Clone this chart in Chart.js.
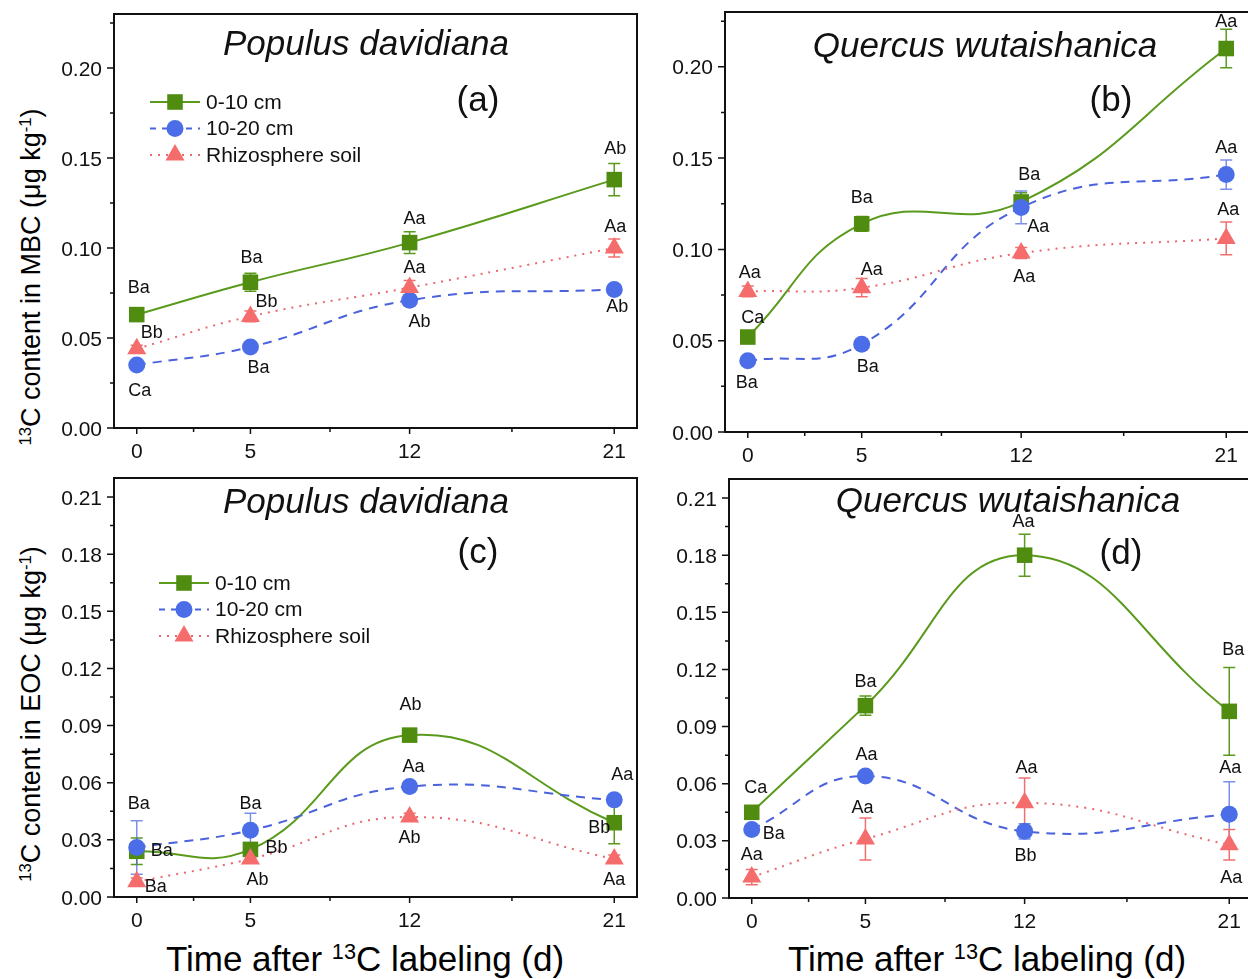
<!DOCTYPE html>
<html>
<head>
<meta charset="utf-8">
<script src="https://cdn.jsdelivr.net/npm/chart.js@4.4.0/dist/chart.umd.min.js"></script>
<style>
  html, body { margin: 0; padding: 0; background: #fff; }
  body { width: 1248px; height: 979px; position: relative; overflow: hidden;
         font-family: "Liberation Sans", Arial, sans-serif; }
  canvas { position: absolute; }
  .axtitle { position: absolute; white-space: nowrap; color: #000; line-height: 1; }
  .sup { font-size: 0.62em; position: relative; top: -0.55em; }
</style>
</head>
<body>
<div class="axtitle" style="left:31px;top:277px;font-size:27px;transform:translate(-50%,-50%) rotate(-90deg);"><span class="sup">13</span>C content in MBC (μg kg<span class="sup">-1</span>)</div>
<div class="axtitle" style="left:31px;top:714px;font-size:27px;transform:translate(-50%,-50%) rotate(-90deg);"><span class="sup">13</span>C content in EOC (μg kg<span class="sup">-1</span>)</div>
<div class="axtitle" style="left:365px;top:958px;font-size:35px;transform:translate(-50%,-50%);">Time after <span class="sup">13</span>C labeling (d)</div>
<div class="axtitle" style="left:987px;top:958px;font-size:35px;transform:translate(-50%,-50%);">Time after <span class="sup">13</span>C labeling (d)</div>

<canvas id="pa"></canvas>
<canvas id="pb"></canvas>
<canvas id="pc"></canvas>
<canvas id="pd"></canvas>

<script>
// ---- datos ----
var days = [0, 5, 12, 21];
var xMajorTicks = [0, 5, 12, 21];
var xMinorTicks = [2.5, 8.5, 16.5];
var mbcTicks = [0, 0.05, 0.10, 0.15, 0.20];
var eocTicks = [0, 0.03, 0.06, 0.09, 0.12, 0.15, 0.18, 0.21];
var seriesNames = ['0-10 cm', '10-20 cm', 'Rhizosphere soil'];

// (a) MBC, Populus davidiana
var popMbcTop = [0.063, 0.081, 0.103, 0.138];
var popMbcTopErr = [0.002, 0.005, 0.006, 0.009];
var popMbcTopSig = ['Ba', 'Ba', 'Aa', 'Ab'];
var popMbcSub = [0.035, 0.045, 0.071, 0.077];
var popMbcSubErr = [0.002, 0.002, 0.003, 0.002];
var popMbcSubSig = ['Ca', 'Ba', 'Ab', 'Ab'];
var popMbcRhizo = [0.044, 0.062, 0.078, 0.100];
var popMbcRhizoErr = [0.002, 0.003, 0.004, 0.005];
var popMbcRhizoSig = ['Bb', 'Bb', 'Aa', 'Aa'];

// (b) MBC, Quercus wutaishanica
var queMbcTop = [0.052, 0.114, 0.126, 0.210];
var queMbcTopErr = [0.002, 0.004, 0.005, 0.0105];
var queMbcTopSig = ['Ca', 'Ba', 'Ba', 'Aa'];
var queMbcSub = [0.039, 0.048, 0.123, 0.141];
var queMbcSubErr = [0.002, 0.002, 0.009, 0.008];
var queMbcSubSig = ['Ba', 'Ba', 'Aa', 'Aa'];
var queMbcRhizo = [0.077, 0.079, 0.098, 0.106];
var queMbcRhizoErr = [0.003, 0.005, 0.003, 0.009];
var queMbcRhizoSig = ['Aa', 'Aa', 'Aa', 'Aa'];

// (c) EOC, Populus davidiana
var popEocTop = [0.024, 0.025, 0.085, 0.039];
var popEocTopErr = [0.007, 0.003, 0.003, 0.011];
var popEocTopSig = ['Ba', 'Bb', 'Ab', 'Bb'];
var popEocSub = [0.026, 0.035, 0.058, 0.051];
var popEocSubErr = [0.014, 0.009, 0.002, 0.002];
var popEocSubSig = ['Ba', 'Ba', 'Aa', 'Aa'];
var popEocRhizo = [0.008, 0.020, 0.042, 0.020];
var popEocRhizoErr = [0.002, 0.002, 0.002, 0.002];
var popEocRhizoSig = ['Ba', 'Ab', 'Ab', 'Aa'];

// (d) EOC, Quercus wutaishanica
var queEocTop = [0.045, 0.101, 0.180, 0.098];
var queEocTopErr = [0.003, 0.005, 0.011, 0.023];
var queEocTopSig = ['Ca', 'Ba', 'Aa', 'Ba'];
var queEocSub = [0.036, 0.064, 0.035, 0.044];
var queEocSubErr = [0.002, 0.002, 0.004, 0.017];
var queEocSubSig = ['Ba', 'Aa', 'Bb', 'Aa'];
var queEocRhizo = [0.011, 0.031, 0.050, 0.028];
var queEocRhizoErr = [0.004, 0.011, 0.013, 0.008];
var queEocRhizoSig = ['Aa', 'Aa', 'Aa', 'Aa'];

// ---- estilos ----
var FONT = '"Liberation Sans", Arial, sans-serif';
var AX_W = 70, AX_H = 50, PAD = 4;

var styles = [
  { fill: '#4f8c10', line: '#5a9a1c', err: '#5a9a1c', dash: [], point: 'rect', radius: 11, order: 3 },
  { fill: '#4b6ee8', line: '#4a62dc', err: 'rgba(80,105,225,0.75)', dash: [9, 7], point: 'circle', radius: 8.5, order: 2 },
  { fill: '#f56c6c', line: '#e8686e', err: '#f07070', dash: [2, 6], point: 'triangle', radius: 11, order: 1 }
];

var panels = [
  { canvas: 'pa', box: { l: 114, r: 637, t: 14, b: 428 }, yMax: 0.23, yTicks: mbcTicks, yStep: 0.05,
    title: 'Populus davidiana', titleX: 366, titleY: 55, tag: '(a)', tagX: 478, tagY: 111,
    legend: { x: 36, y: 88 },
    series: [
      { vals: popMbcTop, err: popMbcTopErr, sig: popMbcTopSig, off: [[2, -27], [1, -24], [5, -24], [1, -31]] },
      { vals: popMbcSub, err: popMbcSubErr, sig: popMbcSubSig, off: [[3, 26], [8, 21], [10, 22], [3, 18]] },
      { vals: popMbcRhizo, err: popMbcRhizoErr, sig: popMbcRhizoSig, off: [[15, -16], [16, -14], [5, -20], [1, -21]] }
    ] },
  { canvas: 'pb', box: { l: 725, r: 1249, t: 12, b: 432 }, yMax: 0.23, yTicks: mbcTicks, yStep: 0.05,
    title: 'Quercus wutaishanica', titleX: 985, titleY: 57, tag: '(b)', tagX: 1111, tagY: 111,
    legend: null,
    series: [
      { vals: queMbcTop, err: queMbcTopErr, sig: queMbcTopSig, off: [[5, -19], [0, -26], [8, -27], [0, -26]] },
      { vals: queMbcSub, err: queMbcSubErr, sig: queMbcSubSig, off: [[-1, 22], [6, 23], [17, 20], [0, -26]] },
      { vals: queMbcRhizo, err: queMbcRhizoErr, sig: queMbcRhizoSig, off: [[2, -18], [10, -18], [3, 24], [2, -28]] }
    ] },
  { canvas: 'pc', box: { l: 114, r: 637, t: 478, b: 897 }, yMax: 0.22, yTicks: eocTicks, yStep: 0.03,
    title: 'Populus davidiana', titleX: 366, titleY: 513, tag: '(c)', tagX: 478, tagY: 563,
    legend: { x: 45, y: 105 },
    series: [
      { vals: popEocTop, err: popEocTopErr, sig: popEocTopSig, off: [[25, 0], [26, -1], [1, -30], [-15, 5]] },
      { vals: popEocSub, err: popEocSubErr, sig: popEocSubSig, off: [[2, -43], [0, -26], [4, -20], [8, -25]] },
      { vals: popEocRhizo, err: popEocRhizoErr, sig: popEocRhizoSig, off: [[19, 5], [7, 21], [0, 21], [0, 21]] }
    ] },
  { canvas: 'pd', box: { l: 729, r: 1252, t: 479, b: 898 }, yMax: 0.22, yTicks: eocTicks, yStep: 0.03,
    title: 'Quercus wutaishanica', titleX: 1008, titleY: 512, tag: '(d)', tagX: 1121, tagY: 564,
    legend: null,
    series: [
      { vals: queEocTop, err: queEocTopErr, sig: queEocTopSig, off: [[4, -24], [0, -24], [-1, -33], [4, -61]] },
      { vals: queEocSub, err: queEocSubErr, sig: queEocSubSig, off: [[22, 5], [1, -21], [1, 25], [1, -46]] },
      { vals: queEocRhizo, err: queEocRhizoErr, sig: queEocRhizoSig, off: [[0, -22], [-3, -31], [2, -35], [2, 33]] }
    ] }
];

function drawMarker(ctx, st, x, y) {
  var r = st.radius;
  ctx.fillStyle = st.fill;
  ctx.beginPath();
  if (st.point === 'rect') {
    var s = r * Math.SQRT1_2;
    ctx.rect(x - s, y - s, 2 * s, 2 * s);
  } else if (st.point === 'circle') {
    ctx.arc(x, y, r, 0, Math.PI * 2);
  } else {
    var a = 0;
    ctx.moveTo(x + Math.sin(a) * r, y - Math.cos(a) * r);
    a += 2 * Math.PI / 3;
    ctx.lineTo(x + Math.sin(a) * r, y - Math.cos(a) * r);
    a += 2 * Math.PI / 3;
    ctx.lineTo(x + Math.sin(a) * r, y - Math.cos(a) * r);
    ctx.closePath();
  }
  ctx.fill();
}

function makePlugin(p) {
  return {
    id: 'decor_' + p.canvas,
    beforeDatasetsDraw: function (chart) {
      // barras de error
      var ctx = chart.ctx, xs = chart.scales.x, ys = chart.scales.y;
      ctx.save();
      p.series.forEach(function (s, i) {
        ctx.strokeStyle = styles[i].err;
        ctx.lineWidth = 1.5;
        s.vals.forEach(function (v, j) {
          var x = xs.getPixelForValue(days[j]);
          var y1 = ys.getPixelForValue(v + s.err[j]);
          var y2 = ys.getPixelForValue(v - s.err[j]);
          ctx.beginPath();
          ctx.moveTo(x, y1); ctx.lineTo(x, y2);
          ctx.moveTo(x - 6, y1); ctx.lineTo(x + 6, y1);
          ctx.moveTo(x - 6, y2); ctx.lineTo(x + 6, y2);
          ctx.stroke();
        });
      });
      ctx.restore();
    },
    afterDatasetsDraw: function (chart) {
      // letras de significancia
      var ctx = chart.ctx;
      ctx.save();
      ctx.fillStyle = '#111';
      ctx.font = '18px ' + FONT;
      ctx.textAlign = 'center';
      ctx.textBaseline = 'middle';
      p.series.forEach(function (s, i) {
        var meta = chart.getDatasetMeta(i);
        s.sig.forEach(function (txt, j) {
          var pt = meta.data[j];
          ctx.fillText(txt, pt.x + s.off[j][0], pt.y + s.off[j][1]);
        });
      });
      ctx.restore();
    },
    afterDraw: function (chart) {
      var ctx = chart.ctx, a = chart.chartArea, xs = chart.scales.x, ys = chart.scales.y;
      ctx.save();
      ctx.strokeStyle = '#111';
      ctx.fillStyle = '#111';
      ctx.lineWidth = 2;
      ctx.strokeRect(a.left, a.top, a.right - a.left, a.bottom - a.top);

      // ticks
      ctx.lineWidth = 1.5;
      ctx.beginPath();
      p.yTicks.forEach(function (v) {
        var y = ys.getPixelForValue(v);
        ctx.moveTo(a.left, y); ctx.lineTo(a.left - 7, y);
        var ym = ys.getPixelForValue(v + p.yStep / 2);
        if (ym > a.top) { ctx.moveTo(a.left, ym); ctx.lineTo(a.left - 4, ym); }
      });
      xMajorTicks.forEach(function (v) {
        var x = xs.getPixelForValue(v);
        ctx.moveTo(x, a.bottom); ctx.lineTo(x, a.bottom + 6);
      });
      xMinorTicks.forEach(function (v) {
        var x = xs.getPixelForValue(v);
        ctx.moveTo(x, a.bottom); ctx.lineTo(x, a.bottom + 4);
      });
      ctx.stroke();

      ctx.font = '21px ' + FONT;
      ctx.textBaseline = 'alphabetic';
      ctx.textAlign = 'right';
      p.yTicks.forEach(function (v) {
        ctx.fillText(v.toFixed(2), a.left - 12, ys.getPixelForValue(v) + 7.5);
      });
      ctx.textAlign = 'center';
      xMajorTicks.forEach(function (v) {
        ctx.fillText(String(v), xs.getPixelForValue(v), a.bottom + 30);
      });

      // titulo y etiqueta del panel
      var ox = p.box.l - AX_W, oy = p.box.t - PAD;
      ctx.font = 'italic 35px ' + FONT;
      ctx.fillText(p.title, p.titleX - ox, p.titleY - oy);
      ctx.font = '35px ' + FONT;
      ctx.fillText(p.tag, p.tagX - ox, p.tagY - oy);

      // leyenda
      if (p.legend) {
        ctx.font = '21px ' + FONT;
        ctx.textAlign = 'left';
        ctx.textBaseline = 'middle';
        var lx = a.left + p.legend.x, ly = a.top + p.legend.y;
        styles.forEach(function (st, i) {
          var y = ly + i * 26.5;
          ctx.strokeStyle = st.line;
          ctx.lineWidth = 2;
          ctx.setLineDash(i === 1 ? [6, 6] : st.dash);
          ctx.beginPath();
          ctx.moveTo(lx, y); ctx.lineTo(lx + 50, y);
          ctx.stroke();
          ctx.setLineDash([]);
          drawMarker(ctx, st, lx + 25, y);
          ctx.fillStyle = '#111';
          ctx.fillText(seriesNames[i], lx + 56, y + 1);
        });
      }
      ctx.restore();
    }
  };
}

function makeChart(p) {
  var cv = document.getElementById(p.canvas);
  var w = AX_W + (p.box.r - p.box.l) + PAD;
  var h = PAD + (p.box.b - p.box.t) + AX_H;
  cv.width = w; cv.height = h;
  cv.style.left = (p.box.l - AX_W) + 'px';
  cv.style.top = (p.box.t - PAD) + 'px';
  cv.style.width = w + 'px';
  cv.style.height = h + 'px';

  var datasets = p.series.map(function (s, i) {
    var st = styles[i];
    return {
      label: seriesNames[i],
      data: s.vals.map(function (v, j) { return { x: days[j], y: v }; }),
      borderColor: st.line,
      borderWidth: 2,
      borderDash: st.dash,
      pointStyle: st.point,
      pointRadius: st.radius,
      pointBackgroundColor: st.fill,
      pointBorderColor: st.fill,
      pointBorderWidth: 0,
      tension: 0.45,
      fill: false,
      clip: false,
      order: st.order
    };
  });

  return new Chart(cv.getContext('2d'), {
    type: 'line',
    data: { datasets: datasets },
    options: {
      responsive: false,
      animation: false,
      devicePixelRatio: 1,
      events: [],
      layout: { autoPadding: false, padding: { top: PAD, right: PAD, left: 0, bottom: 0 } },
      plugins: { legend: { display: false }, tooltip: { enabled: false } },
      scales: {
        x: { type: 'linear', min: -1, max: 22,
             ticks: { display: false }, grid: { display: false, drawTicks: false }, border: { display: false },
             afterFit: function (s) { s.height = AX_H; } },
        y: { type: 'linear', min: 0, max: p.yMax,
             ticks: { display: false }, grid: { display: false, drawTicks: false }, border: { display: false },
             afterFit: function (s) { s.width = AX_W; } }
      }
    },
    plugins: [makePlugin(p)]
  });
}

panels.forEach(makeChart);
</script>
</body>
</html>
